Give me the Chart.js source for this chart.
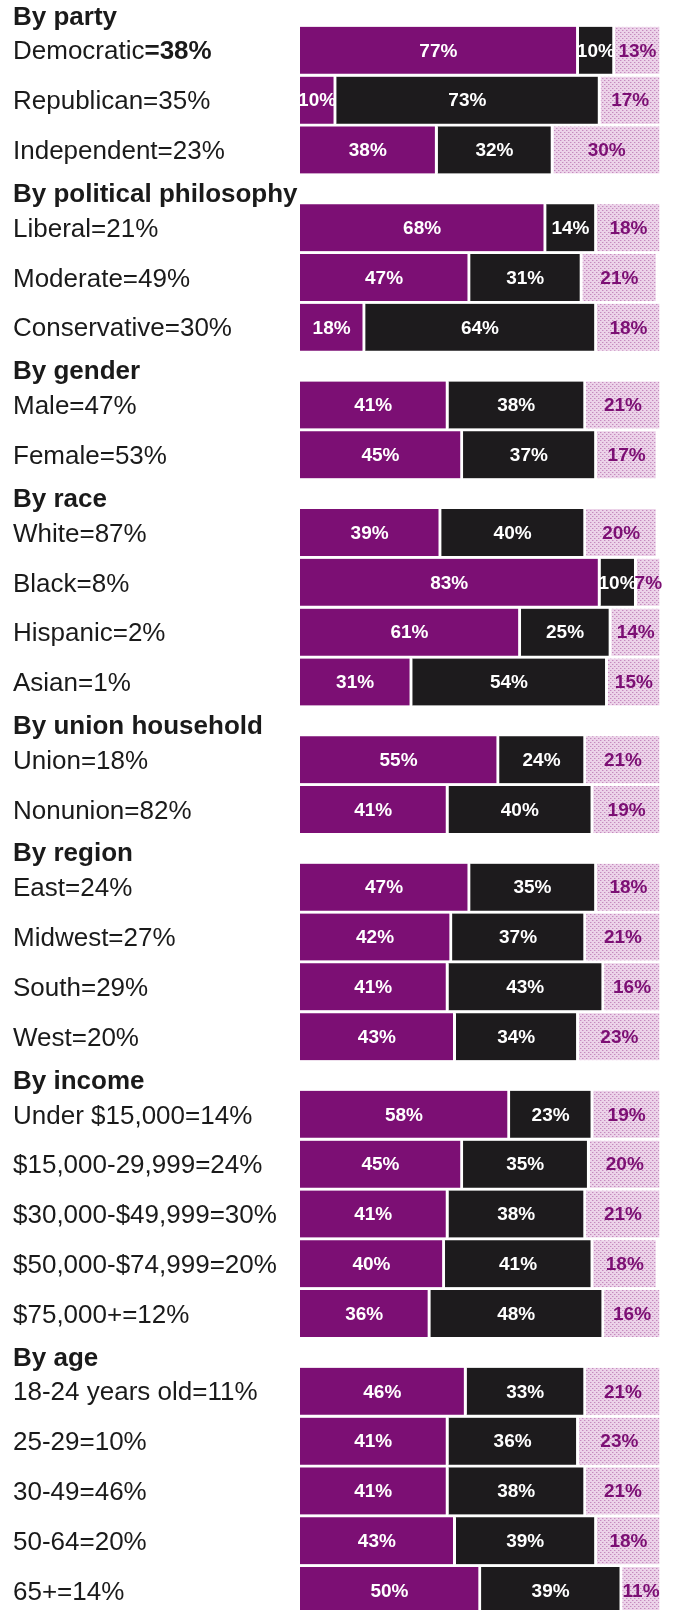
<!DOCTYPE html>
<html>
<head>
<meta charset="utf-8">
<script src="https://cdn.jsdelivr.net/npm/chart.js@4.4.0/dist/chart.umd.min.js"></script>
<style>
    body { margin: 0; background: #ffffff; }
    #wrap { width: 678px; height: 1610px; }
</style>
</head>
<body>
<div id="wrap"><canvas id="exit-poll" width="678" height="1610"></canvas></div>
<script>
// ========= Data =========
const groupNames = ['By party', 'By political philosophy', 'By gender', 'By race',
    'By union household', 'By region', 'By income', 'By age']

const rowNames = ['Democratic', 'Republican', 'Independent',
    'Liberal', 'Moderate', 'Conservative',
    'Male', 'Female',
    'White', 'Black', 'Hispanic', 'Asian',
    'Union', 'Nonunion',
    'East', 'Midwest', 'South', 'West',
    'Under $15,000', '$15,000-29,999', '$30,000-$49,999', '$50,000-$74,999', '$75,000+',
    '18-24 years old', '25-29', '30-49', '50-64', '65+']
const rowShares = ['38%', '35%', '23%', '21%', '49%', '30%', '47%', '53%',
    '87%', '8%', '2%', '1%', '18%', '82%', '24%', '27%', '29%', '20%',
    '14%', '24%', '30%', '20%', '12%', '11%', '10%', '46%', '20%', '14%']
const rowGroup = [0, 0, 0, 1, 1, 1, 2, 2, 3, 3, 3, 3, 4, 4, 5, 5, 5, 5,
    6, 6, 6, 6, 6, 7, 7, 7, 7, 7]
// only the Democratic share is printed in bold
const boldShareRows = [0]

const clinton = [77, 10, 38, 68, 47, 18, 41, 45, 39, 83, 61, 31, 55, 41, 47, 42, 41, 43,
    58, 45, 41, 40, 36, 46, 41, 41, 43, 50]
const bush = [10, 73, 32, 14, 31, 64, 38, 37, 40, 10, 25, 54, 24, 40, 35, 37, 43, 34,
    23, 35, 38, 41, 48, 33, 36, 38, 39, 39]
const perot = [13, 17, 30, 18, 21, 18, 21, 17, 20, 7, 14, 15, 21, 19, 18, 21, 16, 23,
    19, 20, 21, 18, 16, 21, 23, 21, 18, 11]

// ========= Layout constants =========
const GROUP_GAP = 0.56      // extra room (in rows) a group heading takes
const HEAD_ABOVE = 0.66     // heading sits this far above the group's first row
const PURPLE = '#7c0f74'
const BLACK = '#1d1b1d'
const FONT = '"Liberation Sans", Arial, Helvetica, sans-serif'

// row positions on the (linear) y scale, built from the group structure
const rowPos = rowNames.map((n, i) => i + rowGroup[i] * GROUP_GAP)
const headPos = groupNames.map((g, gi) => rowPos[rowGroup.indexOf(gi)] - HEAD_ABOVE)

const canvas = document.getElementById('exit-poll')
const ctx = canvas.getContext('2d')

// dotted screen used for the Perot segments
const MakeDots = () => {
    const tile = document.createElement('canvas')
    tile.width = 4
    tile.height = 4
    const g = tile.getContext('2d')
    g.fillStyle = '#ecd3e9'
    g.fillRect(0, 0, 4, 4)
    g.fillStyle = '#c58abe'
    g.fillRect(0, 0, 1, 1)
    g.fillRect(2, 2, 1, 1)
    g.fillStyle = '#dcb4d7'
    g.fillRect(1, 0, 1, 1)
    g.fillRect(3, 2, 1, 1)
    return ctx.createPattern(tile, 'repeat')
}

const toPoints = values => values.map((v, i) => ({ x: v, y: rowPos[i] }))

const barStyle = {
    barThickness: 47,
    borderColor: '#ffffff',
    borderWidth: { right: 3 },
    borderSkipped: false
}

// left side texts: group headings and row labels
const sideText = {
    id: 'sideText',
    afterDraw(chart) {
        const c = chart.ctx
        const y = chart.scales.y
        c.save()
        c.textBaseline = 'middle'
        c.textAlign = 'left'
        c.fillStyle = '#1a1a1a'

        c.font = 'bold 26px ' + FONT
        groupNames.forEach((g, gi) => c.fillText(g, 13, y.getPixelForValue(headPos[gi])))

        rowNames.forEach((name, i) => {
            const py = y.getPixelForValue(rowPos[i]) + 2
            c.font = '26px ' + FONT
            c.fillText(name, 13, py)
            const w = c.measureText(name).width
            if (boldShareRows.includes(i)) c.font = 'bold 26px ' + FONT
            c.fillText('=' + rowShares[i], 13 + w, py)
        })
        c.restore()
    }
}

// percent figures inside every segment
const segmentText = {
    id: 'segmentText',
    afterDatasetsDraw(chart) {
        const c = chart.ctx
        c.save()
        c.font = 'bold 19px ' + FONT
        c.textAlign = 'center'
        c.textBaseline = 'middle'
        chart.data.datasets.forEach((ds, di) => {
            c.fillStyle = di === 2 ? PURPLE : '#ffffff'
            chart.getDatasetMeta(di).data.forEach((bar, i) => {
                const { x, base, y } = bar.getProps(['x', 'base', 'y'], true)
                c.fillText(ds.data[i].x + '%', (x + base) / 2 - 1, y + 1)
            })
        })
        c.restore()
    }
}

new Chart(ctx, {
    type: 'bar',
    data: {
        datasets: [
            { label: 'Clinton', data: toPoints(clinton), backgroundColor: PURPLE, ...barStyle },
            { label: 'Bush', data: toPoints(bush), backgroundColor: BLACK, ...barStyle },
            { label: 'Perot', data: toPoints(perot), backgroundColor: MakeDots(), ...barStyle }
        ]
    },
    options: {
        indexAxis: 'y',
        responsive: false,
        animation: false,
        layout: { padding: { left: 300, right: 16, top: 0, bottom: 0 } },
        plugins: { legend: { display: false }, tooltip: { enabled: false } },
        scales: {
            x: { type: 'linear', stacked: true, min: 0, max: 100, display: false },
            y: {
                type: 'linear', stacked: true, reverse: true, offset: false, grace: 0,
                min: -1.01, max: 31.31, display: false
            }
        }
    },
    plugins: [sideText, segmentText]
})
</script>
</body>
</html>
